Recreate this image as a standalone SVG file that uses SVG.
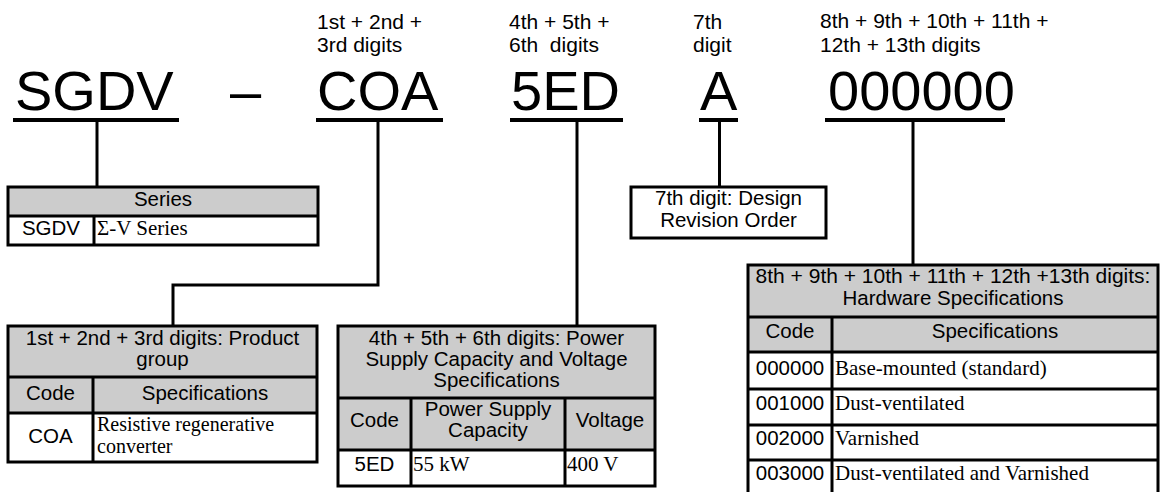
<svg xmlns="http://www.w3.org/2000/svg" width="1163" height="492" viewBox="0 0 1163 492">
<style>
.big{font-family:"Liberation Sans",Arial,sans-serif;font-size:56px;fill:#000}
.lbl{font-family:"Liberation Sans",Arial,sans-serif;font-size:21px;fill:#000}
.t{font-family:"Liberation Sans",Arial,sans-serif;font-size:20.5px;fill:#000;text-anchor:middle}
.s{font-family:"Liberation Serif","Times New Roman",serif;font-size:21px;fill:#000}
.hdr{fill:#cccccc}
.box{fill:none;stroke:#000;stroke-width:3}
.ln{stroke:#000;stroke-width:3;fill:none}
.ul{stroke:#000;stroke-width:4}
</style>
<g id="connectors">
<path class="ln" d="M97,120 V187"/>
<path class="ln" d="M378,120 V285 H173 V326"/>
<path class="ln" d="M577,120 V326"/>
<path class="ln" d="M719.5,120 V187"/>
<path class="ln" d="M913,120 V265"/>
</g>
<g id="seg-sgdv">
<text class="big" x="15" y="110">SGDV</text>
<line class="ul" x1="13" y1="120" x2="179" y2="120"/>
</g>
<g id="seg-dash">
<text class="big" x="230" y="110">–</text>
</g>
<g id="seg-coa">
<text class="lbl" x="317" y="29">1st + 2nd +</text>
<text class="lbl" x="317" y="52">3rd digits</text>
<text class="big" x="317" y="110">COA</text>
<line class="ul" x1="316" y1="120" x2="443" y2="120"/>
</g>
<g id="seg-5ed">
<text class="lbl" x="509" y="29">4th + 5th +</text>
<text class="lbl" x="509" y="52" xml:space="preserve">6th  digits</text>
<text class="big" x="511" y="110">5ED</text>
<line class="ul" x1="510" y1="120" x2="623" y2="120"/>
</g>
<g id="seg-a">
<text class="lbl" x="693" y="29">7th</text>
<text class="lbl" x="693" y="52">digit</text>
<text class="big" x="700" y="110">A</text>
<line class="ul" x1="699" y1="120" x2="738" y2="120"/>
</g>
<g id="seg-000000">
<text class="lbl" x="820" y="28">8th + 9th + 10th + 11th +</text>
<text class="lbl" x="820" y="52">12th + 13th digits</text>
<text class="big" x="828" y="110">000000</text>
<line class="ul" x1="825" y1="120" x2="1005" y2="120"/>
</g>
<g id="table-series">
<rect class="hdr" x="8" y="187" width="310" height="29"/>
<rect class="box" x="8" y="187" width="310" height="58"/>
<line class="ln" x1="8" y1="216" x2="318" y2="216"/>
<line class="ln" x1="94" y1="216" x2="94" y2="245"/>
<text class="t" x="163" y="206">Series</text>
<text class="t" x="51" y="235">SGDV</text>
<text class="s" x="97" y="235">Σ-V Series</text>
</g>
<g id="box-7th">
<rect class="box" x="631" y="187" width="195" height="51"/>
<text class="t" x="728.5" y="205">7th digit: Design</text>
<text class="t" x="728.5" y="227">Revision Order</text>
</g>
<g id="table-product">
<rect class="hdr" x="8" y="326" width="309" height="87"/>
<rect class="box" x="8" y="326" width="309" height="136"/>
<line class="ln" x1="8" y1="377" x2="317" y2="377"/>
<line class="ln" x1="8" y1="413" x2="317" y2="413"/>
<line class="ln" x1="93" y1="377" x2="93" y2="462"/>
<text class="t" x="162.5" y="345">1st + 2nd + 3rd digits: Product</text>
<text class="t" x="162.5" y="366">group</text>
<text class="t" x="50.5" y="400">Code</text>
<text class="t" x="205" y="400">Specifications</text>
<text class="t" x="50.5" y="443">COA</text>
<text class="s" x="97" y="431" style="font-size:20px">Resistive regenerative</text>
<text class="s" x="97" y="453" style="font-size:20px">converter</text>
</g>
<g id="table-power">
<rect class="hdr" x="338" y="326" width="317" height="124"/>
<rect class="box" x="338" y="326" width="317" height="160"/>
<line class="ln" x1="338" y1="398" x2="655" y2="398"/>
<line class="ln" x1="338" y1="450" x2="655" y2="450"/>
<line class="ln" x1="411" y1="398" x2="411" y2="486"/>
<line class="ln" x1="565" y1="398" x2="565" y2="486"/>
<text class="t" x="496.5" y="345">4th + 5th + 6th digits: Power</text>
<text class="t" x="496.5" y="366">Supply Capacity and Voltage</text>
<text class="t" x="496.5" y="387">Specifications</text>
<text class="t" x="374.5" y="427">Code</text>
<text class="t" x="488" y="416">Power Supply</text>
<text class="t" x="488" y="437">Capacity</text>
<text class="t" x="610" y="427">Voltage</text>
<text class="t" x="374.5" y="471">5ED</text>
<text class="s" x="413" y="471">55 kW</text>
<text class="s" x="567" y="471">400 V</text>
</g>
<g id="table-hardware">
<rect class="hdr" x="748" y="265" width="410" height="87"/>
<path class="ln" d="M748,500 V265 H1158 V500"/>
<line class="ln" x1="748" y1="317" x2="1158" y2="317"/>
<line class="ln" x1="748" y1="352" x2="1158" y2="352"/>
<line class="ln" x1="748" y1="389" x2="1158" y2="389"/>
<line class="ln" x1="748" y1="425" x2="1158" y2="425"/>
<line class="ln" x1="748" y1="460" x2="1158" y2="460"/>
<line class="ln" x1="832" y1="317" x2="832" y2="500"/>
<text class="t" x="953" y="283" style="font-size:21px">8th + 9th + 10th + 11th + 12th +13th digits:</text>
<text class="t" x="953" y="305">Hardware Specifications</text>
<text class="t" x="790" y="338">Code</text>
<text class="t" x="995" y="338">Specifications</text>
<text class="t" x="790" y="375">000000</text>
<text class="s" x="835" y="375">Base-mounted (standard)</text>
<text class="t" x="790" y="410">001000</text>
<text class="s" x="835" y="410">Dust-ventilated</text>
<text class="t" x="790" y="445">002000</text>
<text class="s" x="835" y="445">Varnished</text>
<text class="t" x="790" y="480">003000</text>
<text class="s" x="835" y="480">Dust-ventilated and Varnished</text>
</g>
</svg>
